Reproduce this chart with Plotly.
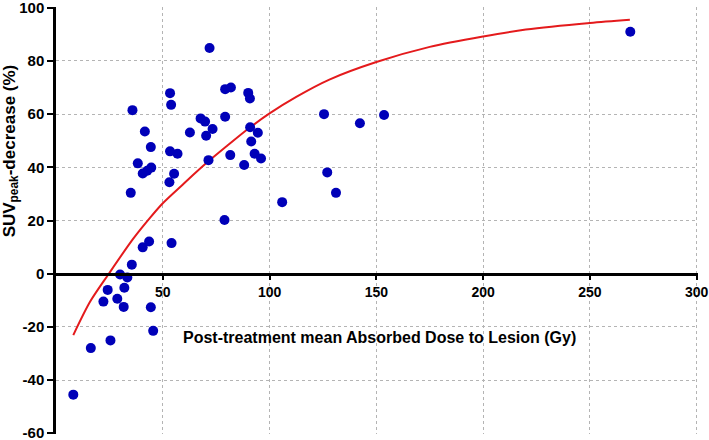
import plotly.graph_objects as go

# Scatter data
dose = [35.8, 41.6, 38.3, 44.4, 40.6, 42.7, 44.6, 35.0, 53.4, 53.9, 53.4, 56.9, 55.3, 53.1,
        71.9, 62.7, 67.7, 69.8, 70.3, 73.3, 71.4, 79.2, 81.9, 79.2, 81.6, 78.9, 90.0, 90.8,
        90.9, 94.5, 91.4, 93.0, 96.0, 88.1, 125.5, 142.3, 153.6, 127.0, 131.1, 105.9, 268.9,
        40.6, 43.6, 54.1, 35.5, 30.0, 33.4, 24.2, 32.0, 22.2, 28.7, 31.7, 44.4, 45.5, 16.3,
        25.5, 8.1]
suv_decrease = [61.5, 53.5, 41.5, 47.6, 37.7, 38.7, 39.9, 30.4, 67.9, 63.5, 46.0, 45.1, 37.6, 34.4,
                84.9, 53.1, 58.4, 57.2, 51.9, 54.4, 42.7, 69.4, 70.0, 59.0, 44.6, 20.2, 68.0, 65.9,
                55.1, 53.0, 49.7, 45.1, 43.3, 40.9, 60.0, 56.6, 59.7, 38.1, 30.4, 26.9, 91.0,
                9.9, 12.1, 11.5, 3.4, -0.3, -1.4, -6.1, -5.3, -10.5, -9.4, -12.5, -12.6, -21.5, -28.0,
                -25.1, -45.5]

# Fitted curve
fit_x = [8.1, 16, 24.5, 36, 44, 50, 60, 70, 80, 90, 100, 112.5, 128, 150, 175, 200, 220, 250, 268.7]
fit_y = [-23.1, -10.5, -0.3, 13.0, 21.0, 26.5, 34.0, 41.3, 48.0, 54.5, 60.3, 66.5, 73.0, 79.6,
         85.3, 89.2, 91.8, 94.3, 95.5]

x_ticks = [50, 100, 150, 200, 250, 300]
y_ticks = [-60, -40, -20, 0, 20, 40, 60, 80, 100]

FONT = "Liberation Sans, Arial, sans-serif"

fig = go.Figure()
fig.add_trace(go.Scatter(x=fit_x, y=fit_y, mode="lines",
                         line=dict(color="#e41a1c", width=2, shape="spline", smoothing=0.8),
                         hoverinfo="skip", showlegend=False))
fig.add_trace(go.Scatter(x=dose, y=suv_decrease, mode="markers",
                         marker=dict(color="#0000b8", size=10, line=dict(width=0)),
                         showlegend=False))

y_lo, y_hi = -60.3, 100.3
fig.update_layout(
    width=709, height=440,
    margin=dict(l=56, r=11, t=7, b=6, autoexpand=False),
    paper_bgcolor="white", plot_bgcolor="white",
    font=dict(family=FONT, color="black"),
    xaxis=dict(range=[0, 300.6], tickvals=x_ticks, ticktext=[str(v) for v in x_ticks],
               showgrid=True, gridcolor="#b4b4b4", griddash="dot", gridwidth=1,
               zeroline=False, showline=True, linecolor="black", linewidth=2.5,
               ticks="outside", ticklen=5, tickwidth=2, tickcolor="black",
               ticklabeloverflow="allow", automargin=False,
               tickfont=dict(size=14, family=FONT, weight="bold", color="black"),
               anchor="free", position=(0 - y_lo) / (y_hi - y_lo)),
    yaxis=dict(range=[y_lo, y_hi], tickvals=y_ticks, ticktext=[str(v) for v in y_ticks],
               showgrid=True, gridcolor="#b4b4b4", griddash="dot", gridwidth=1,
               zeroline=False, showline=True, linecolor="black", linewidth=2.5,
               ticks="outside", ticklen=6, tickwidth=2, tickcolor="black",
               ticklabeloverflow="allow", automargin=False,
               tickfont=dict(size=15, family=FONT, weight="bold", color="black")),
    annotations=[
        dict(text="Post-treatment mean Absorbed Dose to Lesion (Gy)", x=151.4, y=-24,
             xref="x", yref="y", showarrow=False,
             font=dict(size=16, family=FONT, weight="bold", color="black")),
        dict(text="SUV<sub>peak</sub>-decrease (%)", x=0, y=46, xref="paper", yref="y",
             xanchor="center", yanchor="middle", xshift=-45, textangle=-90, showarrow=False,
             font=dict(size=17, family=FONT, weight="bold", color="black")),
    ],
)

fig.write_html("out.html", config={"displayModeBar": False},
               post_script="document.body.style.margin='0';document.body.style.overflow='hidden';")
